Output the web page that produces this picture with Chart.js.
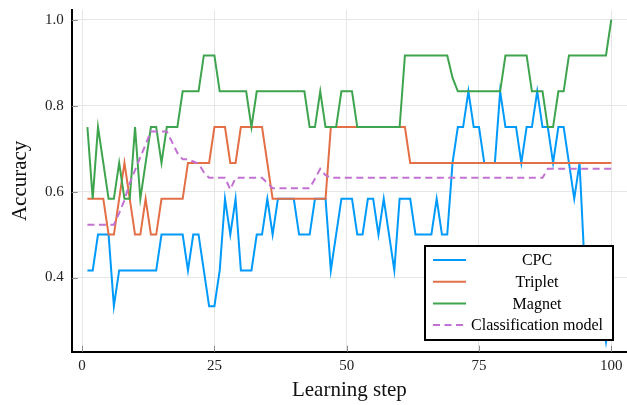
<!DOCTYPE html>
<html>
<head>
<meta charset="utf-8">
<script src="https://cdn.jsdelivr.net/npm/chart.js@4.4.1/dist/chart.umd.min.js"></script>
<style>
  html, body { margin: 0; padding: 0; background: #fff; }
  #wrap { width: 627px; height: 405px; }
</style>
</head>
<body>
<div id="wrap"><canvas id="accChart" width="627" height="405"></canvas></div>
<script>
// learning steps 1..100
const steps = Array.from({ length: 100 }, (_, i) => i + 1);

const cpc = [
  0.4167, 0.4167, 0.5, 0.5, 0.5, 0.3333, 0.4167, 0.4167, 0.4167, 0.4167,
  0.4167, 0.4167, 0.4167, 0.4167, 0.5, 0.5, 0.5, 0.5, 0.5, 0.4167,
  0.5, 0.5, 0.4167, 0.3333, 0.3333, 0.4167, 0.5833, 0.5, 0.5833, 0.4167,
  0.4167, 0.4167, 0.5, 0.5, 0.5833, 0.5, 0.5833, 0.5833, 0.5833, 0.5833,
  0.5, 0.5, 0.5, 0.5833, 0.5833, 0.5833, 0.4167, 0.5, 0.5833, 0.5833,
  0.5833, 0.5, 0.5, 0.5833, 0.5833, 0.5, 0.5833, 0.5, 0.4167, 0.5833,
  0.5833, 0.5833, 0.5, 0.5, 0.5, 0.5, 0.5833, 0.5, 0.5, 0.6667,
  0.75, 0.75, 0.8333, 0.75, 0.75, 0.6667, 0.6667, 0.6667, 0.8333, 0.75,
  0.75, 0.75, 0.6667, 0.75, 0.75, 0.8333, 0.75, 0.75, 0.6667, 0.75,
  0.75, 0.6667, 0.5833, 0.6667, 0.4167, 0.3333, 0.4167, 0.3333, 0.25, 0.3333
];

const triplet = [
  0.5833, 0.5833, 0.5833, 0.5833, 0.5, 0.5, 0.5833, 0.6667, 0.5833, 0.5,
  0.5, 0.5833, 0.5, 0.5, 0.5833, 0.5833, 0.5833, 0.5833, 0.5833, 0.6667,
  0.6667, 0.6667, 0.6667, 0.6667, 0.75, 0.75, 0.75, 0.6667, 0.6667, 0.75,
  0.75, 0.75, 0.75, 0.75, 0.6667, 0.5833, 0.5833, 0.5833, 0.5833, 0.5833,
  0.5833, 0.5833, 0.5833, 0.5833, 0.5833, 0.5833, 0.75, 0.75, 0.75, 0.75,
  0.75, 0.75, 0.75, 0.75, 0.75, 0.75, 0.75, 0.75, 0.75, 0.75,
  0.75, 0.6667, 0.6667, 0.6667, 0.6667, 0.6667, 0.6667, 0.6667, 0.6667, 0.6667,
  0.6667, 0.6667, 0.6667, 0.6667, 0.6667, 0.6667, 0.6667, 0.6667, 0.6667, 0.6667,
  0.6667, 0.6667, 0.6667, 0.6667, 0.6667, 0.6667, 0.6667, 0.6667, 0.6667, 0.6667,
  0.6667, 0.6667, 0.6667, 0.6667, 0.6667, 0.6667, 0.6667, 0.6667, 0.6667, 0.6667
];

const magnet = [
  0.75, 0.5833, 0.75, 0.6667, 0.5833, 0.5833, 0.6667, 0.5833, 0.5833, 0.75,
  0.5833, 0.6667, 0.75, 0.75, 0.6667, 0.75, 0.75, 0.75, 0.8333, 0.8333,
  0.8333, 0.8333, 0.9167, 0.9167, 0.9167, 0.8333, 0.8333, 0.8333, 0.8333, 0.8333,
  0.8333, 0.75, 0.8333, 0.8333, 0.8333, 0.8333, 0.8333, 0.8333, 0.8333, 0.8333,
  0.8333, 0.8333, 0.75, 0.75, 0.8333, 0.75, 0.75, 0.75, 0.8333, 0.8333,
  0.8333, 0.75, 0.75, 0.75, 0.75, 0.75, 0.75, 0.75, 0.75, 0.75,
  0.9167, 0.9167, 0.9167, 0.9167, 0.9167, 0.9167, 0.9167, 0.9167, 0.9167, 0.865,
  0.8333, 0.8333, 0.8333, 0.8333, 0.8333, 0.8333, 0.8333, 0.8333, 0.8333, 0.9167,
  0.9167, 0.9167, 0.9167, 0.9167, 0.8333, 0.8333, 0.8333, 0.75, 0.75, 0.8333,
  0.8333, 0.9167, 0.9167, 0.9167, 0.9167, 0.9167, 0.9167, 0.9167, 0.9167, 1.0
];

const classification = [
  0.523, 0.523, 0.523, 0.523, 0.523, 0.523, 0.55, 0.58, 0.62, 0.65,
  0.68, 0.71, 0.74, 0.74, 0.74, 0.74, 0.715, 0.69, 0.675, 0.675,
  0.67, 0.665, 0.645, 0.632, 0.632, 0.632, 0.632, 0.605, 0.632, 0.632,
  0.632, 0.632, 0.632, 0.632, 0.62, 0.608, 0.608, 0.608, 0.608, 0.608,
  0.608, 0.608, 0.608, 0.63, 0.653, 0.638, 0.632, 0.632, 0.632, 0.632,
  0.632, 0.632, 0.632, 0.632, 0.632, 0.632, 0.632, 0.632, 0.632, 0.632,
  0.632, 0.632, 0.632, 0.632, 0.632, 0.632, 0.632, 0.632, 0.632, 0.632,
  0.632, 0.632, 0.632, 0.632, 0.632, 0.632, 0.632, 0.632, 0.632, 0.632,
  0.632, 0.632, 0.632, 0.632, 0.632, 0.632, 0.632, 0.653, 0.653, 0.653,
  0.653, 0.653, 0.653, 0.653, 0.653, 0.653, 0.653, 0.653, 0.653, 0.653
];

const xTicks = [0, 25, 50, 75, 100];
const yTicks = [0.4, 0.6, 0.8, 1.0];

const serif = '"Liberation Serif", "DejaVu Serif", serif';

function series(label, values, color, order, dash) {
  return {
    label: label,
    data: values.map((v, i) => ({ x: steps[i], y: v })),
    borderColor: color,
    backgroundColor: color,
    borderWidth: 2,
    borderDash: dash || [],
    pointRadius: 0,
    tension: 0,
    fill: false,
    order: order
  };
}

// legend box inside the plot, bottom right
const boxLegend = {
  id: 'boxLegend',
  afterDatasetsDraw(chart) {
    const ctx = chart.ctx;
    const x0 = 425, y0 = 246, w = 188, h = 94;
    ctx.save();
    ctx.fillStyle = '#fff';
    ctx.fillRect(x0, y0, w, h);
    ctx.strokeStyle = '#000';
    ctx.lineWidth = 2;
    ctx.strokeRect(x0, y0, w, h);
    ctx.font = '16px ' + serif;
    ctx.textAlign = 'center';
    ctx.textBaseline = 'middle';
    chart.data.datasets.forEach((ds, i) => {
      const y = 260 + i * 21.7;
      ctx.strokeStyle = ds.borderColor;
      ctx.lineWidth = 2;
      ctx.setLineDash(ds.borderDash);
      ctx.beginPath();
      ctx.moveTo(433, y);
      ctx.lineTo(466, y);
      ctx.stroke();
      ctx.setLineDash([]);
      ctx.fillStyle = '#000';
      ctx.fillText(ds.label, 537, y + 1);
    });
    ctx.restore();
  }
};

// small inside tick marks like the original
const innerTicks = {
  id: 'innerTicks',
  afterDatasetsDraw(chart) {
    const ctx = chart.ctx;
    const a = chart.chartArea;
    const xs = chart.scales.x, ys = chart.scales.y;
    ctx.save();
    ctx.strokeStyle = '#8a8a8a';
    ctx.lineWidth = 1;
    ctx.beginPath();
    xTicks.forEach(t => {
      const px = Math.round(xs.getPixelForValue(t)) + 0.5;
      ctx.moveTo(px, a.bottom);
      ctx.lineTo(px, a.bottom - 6);
    });
    yTicks.forEach(t => {
      const py = Math.round(ys.getPixelForValue(t)) + 0.5;
      ctx.moveTo(a.left, py);
      ctx.lineTo(a.left + 6, py);
    });
    ctx.stroke();
    ctx.restore();
  }
};

new Chart(document.getElementById('accChart'), {
  type: 'line',
  data: {
    datasets: [
      series('CPC', cpc, '#009AFA', 4),
      series('Triplet', triplet, '#E36F47', 3),
      series('Magnet', magnet, '#3EA44E', 2),
      series('Classification model', classification, '#C371D2', 1, [7, 4.5])
    ]
  },
  options: {
    responsive: false,
    animation: false,
    layout: { padding: { top: 10, right: 0, left: 0, bottom: 0 } },
    plugins: {
      legend: { display: false },
      tooltip: { enabled: false }
    },
    scales: {
      x: {
        type: 'linear',
        min: -1.97,
        max: 102.97,
        afterBuildTicks: s => { s.ticks = xTicks.map(v => ({ value: v })); },
        afterFit: s => { s.height = 53.3; s.paddingLeft = 0; s.paddingRight = 0; },
        grid: { color: '#e6e6e6', lineWidth: 1, drawTicks: false },
        border: { color: '#000', width: 2 },
        ticks: {
          padding: 5,
          color: '#222',
          font: { family: serif, size: 15 },
          maxRotation: 0,
          callback: v => String(v)
        },
        title: {
          display: true,
          text: 'Learning step',
          color: '#111',
          font: { family: serif, size: 21 },
          padding: { top: 0, bottom: 2.4 }
        }
      },
      y: {
        min: 0.2275,
        max: 1.0225,
        afterBuildTicks: s => { s.ticks = yTicks.map(v => ({ value: v })); },
        afterFit: s => { s.width = 71.7; s.paddingTop = 0; s.paddingBottom = 0; },
        grid: { color: '#e6e6e6', lineWidth: 1, drawTicks: false },
        border: { color: '#000', width: 2 },
        ticks: {
          padding: 8,
          color: '#222',
          font: { family: serif, size: 15 },
          callback: v => v.toFixed(1)
        },
        title: {
          display: true,
          text: 'Accuracy',
          color: '#111',
          font: { family: serif, size: 21 },
          padding: { top: 7.5, bottom: 0 }
        }
      }
    }
  },
  plugins: [innerTicks, boxLegend]
});
</script>
</body>
</html>
